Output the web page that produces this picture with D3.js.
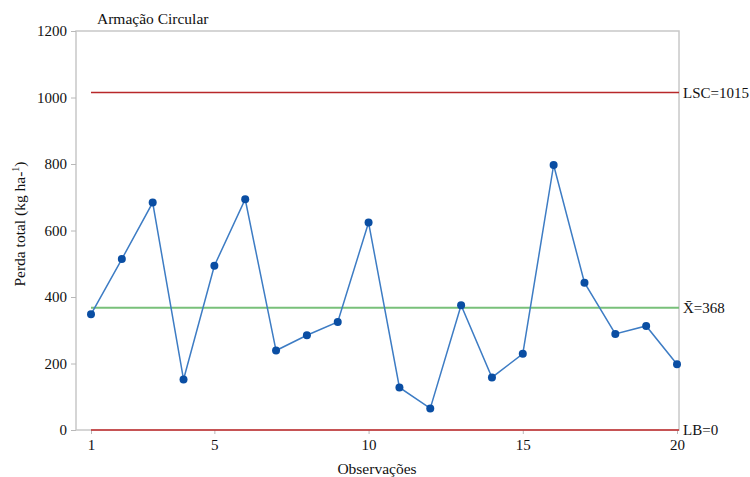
<!DOCTYPE html>
<html>
<head>
<meta charset="utf-8">
<script src="https://cdn.jsdelivr.net/npm/d3@7"></script>
<style>
  body { margin: 0; background: #fff; }
  svg text { font-family: "Liberation Serif", "Times New Roman", "DejaVu Serif", serif; }
</style>
</head>
<body>
<svg id="chart"></svg>
<script>
// observations and total loss values (kg ha-1)
const observacoes = d3.range(1, 21)
const perda = [348, 514, 684, 152, 494, 694, 239, 285, 325, 624,
               128, 65, 375, 158, 229, 797, 443, 289, 313, 198]

// control limits
const lsc = 1015
const media = 368
const lb = 0

const yTicks = [0, 200, 400, 600, 800, 1000, 1200]
const xTicks = [1, 5, 10, 15, 20]

const width = 750
const height = 477
const plot = {left: 76, right: 679, top: 31, bottom: 430}
const serif = '"Liberation Serif", "Times New Roman", serif'
const textColour = '#111'

const svg = d3.select('#chart')
    .attr('width', width)
    .attr('height', height)

// scales
const xScale = d3.scaleLinear()
    .domain([1, 20])
    .range([91, 677])
const yScale = d3.scaleLinear()
    .domain([0, 1200])
    .range([plot.bottom, plot.top])

// frame
svg.append('rect')
    .attr('x', plot.left)
    .attr('y', plot.top)
    .attr('width', plot.right - plot.left)
    .attr('height', plot.bottom - plot.top)
    .style('fill', 'none')
    .style('stroke', '#c8c8c8')
    .style('stroke-width', 1.5)

// axes
const yAxis = d3.axisLeft(yScale)
    .tickValues(yTicks)
    .tickFormat(d3.format('d'))
    .tickSize(5)
    .tickPadding(4)
    .tickSizeOuter(0)
const xAxis = d3.axisBottom(xScale)
    .tickValues(xTicks)
    .tickFormat(d3.format('d'))
    .tickSize(4)
    .tickPadding(5)
    .tickSizeOuter(0)

const gy = svg.append('g')
    .attr('transform', `translate(${plot.left}, 0)`)
    .call(yAxis)
    .attr('font-family', serif)
    .attr('font-size', 15)
gy.select('.domain').remove()

const gx = svg.append('g')
    .attr('transform', `translate(0, ${plot.bottom})`)
    .call(xAxis)
    .attr('font-family', serif)
    .attr('font-size', 15)
gx.select('.domain').remove()

svg.selectAll('.tick line')
    .style('stroke', '#b8b8b8')
svg.selectAll('.tick text')
    .style('fill', textColour)

// control lines
const limites = [
    {value: lsc, colour: '#b8282a', label: 'LSC=' + lsc},
    {value: media, colour: '#78c07a', label: '=' + media, bar: true},
    {value: lb, colour: '#c0282a', label: 'LB=' + lb}
]

svg.selectAll('line.limit')
    .data(limites)
    .enter()
    .append('line')
        .attr('class', 'limit')
        .attr('x1', xScale(1))
        .attr('x2', plot.right)
        .attr('y1', d => yScale(d.value))
        .attr('y2', d => yScale(d.value))
        .style('stroke', d => d.colour)
        .style('stroke-width', d => d.bar ? 2 : 1.5)

const limitLabels = svg.selectAll('text.limit')
    .data(limites)
    .enter()
    .append('text')
        .attr('class', 'limit')
        .attr('x', plot.right + 4)
        .attr('y', d => yScale(d.value) + 5)
        .style('font-size', '15px')
        .style('fill', textColour)
limitLabels.each(function(d) {
    const t = d3.select(this)
    if (d.bar) {
        t.append('tspan').text('X\u0304')
        t.append('tspan').text(d.label)
    } else {
        t.text(d.label)
    }
})

// data line
const line = d3.line()
    .x((d, i) => xScale(observacoes[i]))
    .y(d => yScale(d))

svg.append('path')
    .datum(perda)
    .attr('d', line)
    .style('fill', 'none')
    .style('stroke', '#3d7cc4')
    .style('stroke-width', 1.5)

svg.selectAll('circle.obs')
    .data(perda)
    .enter()
    .append('circle')
        .attr('class', 'obs')
        .attr('cx', (d, i) => xScale(observacoes[i]))
        .attr('cy', d => yScale(d))
        .attr('r', 4)
        .style('fill', '#0a4ea3')

// titles
svg.append('text')
    .attr('x', 97)
    .attr('y', 24)
    .style('font-size', '15.5px')
    .style('fill', textColour)
    .text('Armação Circular')

svg.append('text')
    .attr('x', 377)
    .attr('y', 474)
    .attr('text-anchor', 'middle')
    .style('font-size', '15.5px')
    .style('fill', textColour)
    .text('Observações')

const yTitle = svg.append('text')
    .attr('transform', `translate(25, 224) rotate(-90)`)
    .attr('text-anchor', 'middle')
    .style('font-size', '15.5px')
    .style('fill', textColour)
yTitle.append('tspan').text('Perda total (kg ha-')
yTitle.append('tspan').attr('dy', -6).style('font-size', '10px').text('1')
yTitle.append('tspan').attr('dy', 6).text(')')
</script>
</body>
</html>
